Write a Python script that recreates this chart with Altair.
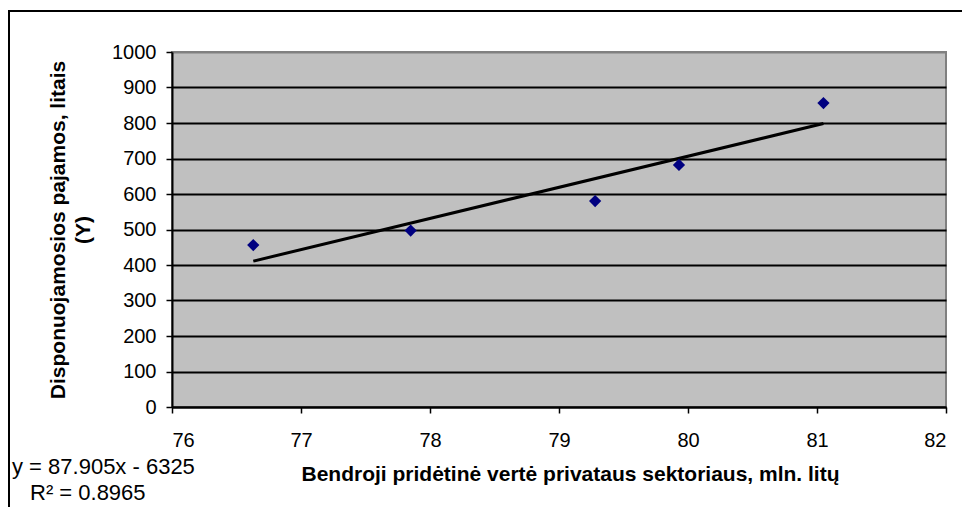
import altair as alt
import pandas as pd

# Data
x_vals = [76.63, 77.85, 79.28, 79.93, 81.05]
y_vals = [456, 497, 580, 682, 856]
x_ticks = [76, 77, 78, 79, 80, 81, 82]
y_ticks = [0, 100, 200, 300, 400, 500, 600, 700, 800, 900, 1000]
equation_lines = ["y = 87.905x - 6325", "R² = 0.8965"]
x_title = "Bendroji pridėtinė vertė privataus sektoriaus, mln. litų"
y_title = ["Disponuojamosios pajamos, litais", "(Y)"]

df = pd.DataFrame({"x": x_vals, "y": y_vals})

FONT = "Liberation Sans"

x_enc = alt.X(
    "x:Q",
    scale=alt.Scale(domain=[76, 82], nice=False, zero=False),
    axis=alt.Axis(
        values=x_ticks,
        format="d",
        grid=False,
        labelOverlap=False,
        domainColor="black",
        domainWidth=2,
        tickColor="black",
        tickWidth=1.5,
        tickSize=6,
        labelFont=FONT,
        labelFontSize=20,
        labelColor="black",
        labelPadding=17,
        title=x_title,
        titleFont=FONT,
        titleFontSize=21,
        titleFontWeight="bold",
        titleColor="black",
        titlePadding=13,
        titleX=398,
    ),
)
y_enc = alt.Y(
    "y:Q",
    scale=alt.Scale(domain=[0, 1000], nice=False),
    axis=alt.Axis(
        values=y_ticks,
        format="d",
        grid=True,
        labelOverlap=False,
        gridColor={"condition": {"test": "datum.value === 1000", "value": "#808080"}, "value": "black"},
        gridWidth=2,
        domainColor="black",
        domainWidth=2,
        tickColor="black",
        tickWidth=1.5,
        tickSize=6,
        labelFont=FONT,
        labelFontSize=20,
        labelColor="black",
        labelPadding=10,
        title=y_title,
        titleFont=FONT,
        titleFontSize=21,
        titleFontWeight="bold",
        titleColor="black",
        titlePadding=18,
        titleLineHeight=25,
    ),
)

base = alt.Chart(df)

points = base.mark_point(
    shape="diamond", filled=True, color="#000080", size=150, opacity=1
).encode(x=x_enc, y=y_enc)

trend = base.transform_regression("x", "y").mark_line(
    color="black", strokeWidth=3
).encode(x=x_enc, y=y_enc)

eq_df = pd.DataFrame({"t": equation_lines})
eq1 = alt.Chart(eq_df.iloc[[0]]).mark_text(
    font=FONT, fontSize=22, align="left", baseline="middle", color="black"
).encode(text="t:N", x=alt.value(-160), y=alt.value(415))
eq2 = alt.Chart(eq_df.iloc[[1]]).mark_text(
    font=FONT, fontSize=22, align="left", baseline="middle", color="black"
).encode(text="t:N", x=alt.value(-142), y=alt.value(441))

border = alt.Chart(pd.DataFrame({"a": [0]})).mark_rect(
    fill=None, stroke="black", strokeWidth=2
).encode(x=alt.value(-163), x2=alt.value(900), y=alt.value(-41), y2=alt.value(700))

chart = alt.layer(border, trend, points, eq1, eq2).properties(
    width=774,
    height=355,
    autosize=alt.AutoSizeParams(type="none"),
    padding={"left": 164, "top": 44, "right": 16, "bottom": 100},
    background="white",
).configure_view(
    fill="#C0C0C0", stroke="#808080", strokeWidth=2
)

chart.save("out.html", embed_options={"renderer": "svg", "actions": False})
